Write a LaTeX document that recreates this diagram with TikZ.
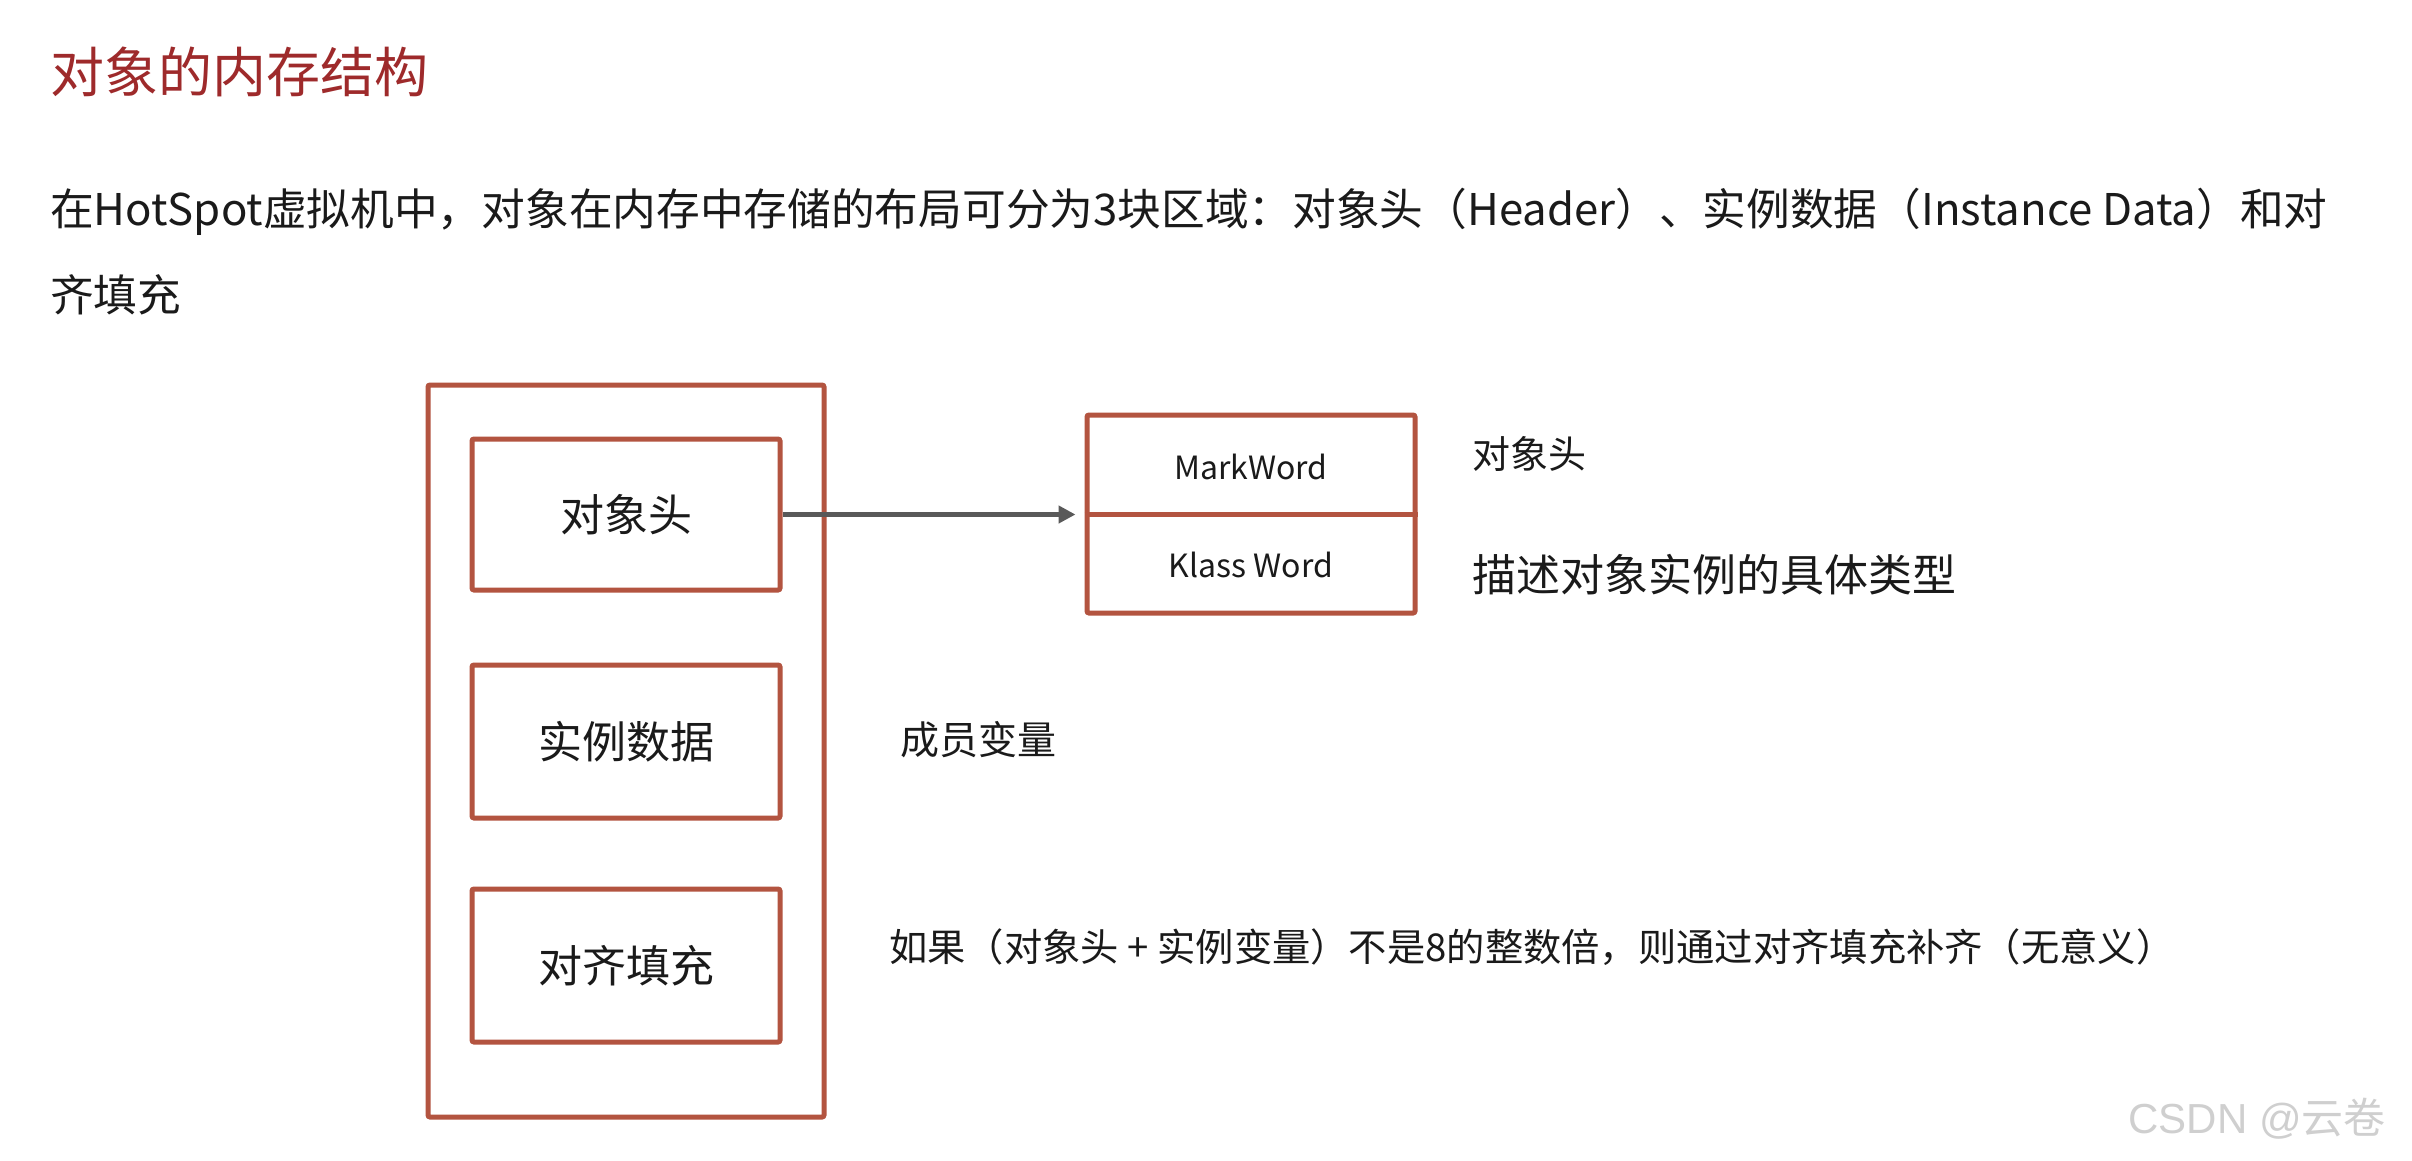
\documentclass[tikz,border=0pt]{standalone}
\usepackage{fontspec}
\setmainfont{Noto Sans CJK SC}
\newfontfamily\wmfont{Liberation Sans}
\usetikzlibrary{arrows.meta}
\definecolor{boxred}{HTML}{B35440}
\definecolor{titlered}{HTML}{9E2A2B}
\definecolor{arrowgray}{HTML}{595959}
\definecolor{wmgray}{HTML}{CFCFCF}
\definecolor{txt}{HTML}{1A1A1A}
\begin{document}
\begin{tikzpicture}[x=1pt,y=-1pt,
  box/.style={draw=boxred,line width=5pt,rounded corners=2pt,inner sep=0pt,fill=none},
  lbl/.style={inner sep=0pt,text=txt,anchor=west},
  fs/.style={font=\fontsize{#1}{#1}\selectfont}]
\useasboundingbox[fill=white] (0,0) rectangle (2412,1160);

% title and paragraph
\node[inner sep=0pt,anchor=west,text=titlered,fs=54] (title) at (50,72) {对象的内存结构};
\node[lbl,fs=43.7] (line1) at (50,212) {在HotSpot虚拟机中，对象在内存中存储的布局可分为3块区域：对象头（Header）、实例数据（Instance Data）和对};
\node[lbl,fs=43.7] (line2) at (50,295) {齐填充};

% memory layout
\node[box,minimum width=396pt,minimum height=732pt] (mem) at (626,751) {};
\node[box,minimum width=308pt,minimum height=151pt,text=txt,fs=44] (hdr) at (626,514.5) {对象头};
\node[box,minimum width=308pt,minimum height=153pt,text=txt,fs=44] (inst) at (626,741.5) {实例数据};
\node[box,minimum width=308pt,minimum height=153pt,text=txt,fs=44] (pad) at (626,965.5) {对齐填充};

% header detail
\node[box,minimum width=328pt,minimum height=198pt] (rbox) at (1251,514) {};
\draw[boxred,line width=5pt] (rbox.west) -- (rbox.east);
\node[inner sep=0pt,text=txt,fs=32] (mark) at (1251,467) {MarkWord};
\node[inner sep=0pt,text=txt,fs=32] (klass) at (1251,565) {Klass Word};

\draw[arrowgray,line width=5pt,-{Triangle[length=17pt,width=17pt]},shorten >=9pt] (hdr.east) -- (hdr.east -| rbox.west);

% annotations
\node[lbl,fs=38] (n1) at (1472,454) {对象头};
\node[lbl,fs=44] (n2) at (1472,575) {描述对象实例的具体类型};
\node[lbl,fs=39] (n3) at (900,740) {成员变量};
\node[lbl,fs=38.3] (n4) at (889,947) {如果（对象头 + 实例变量）不是8的整数倍，则通过对齐填充补齐（无意义）};

% watermark
\node[inner sep=0pt,anchor=east,text=wmgray,fs=42] (wm) at (2386,1119) {{\wmfont CSDN @}云卷};
\end{tikzpicture}
\end{document}
